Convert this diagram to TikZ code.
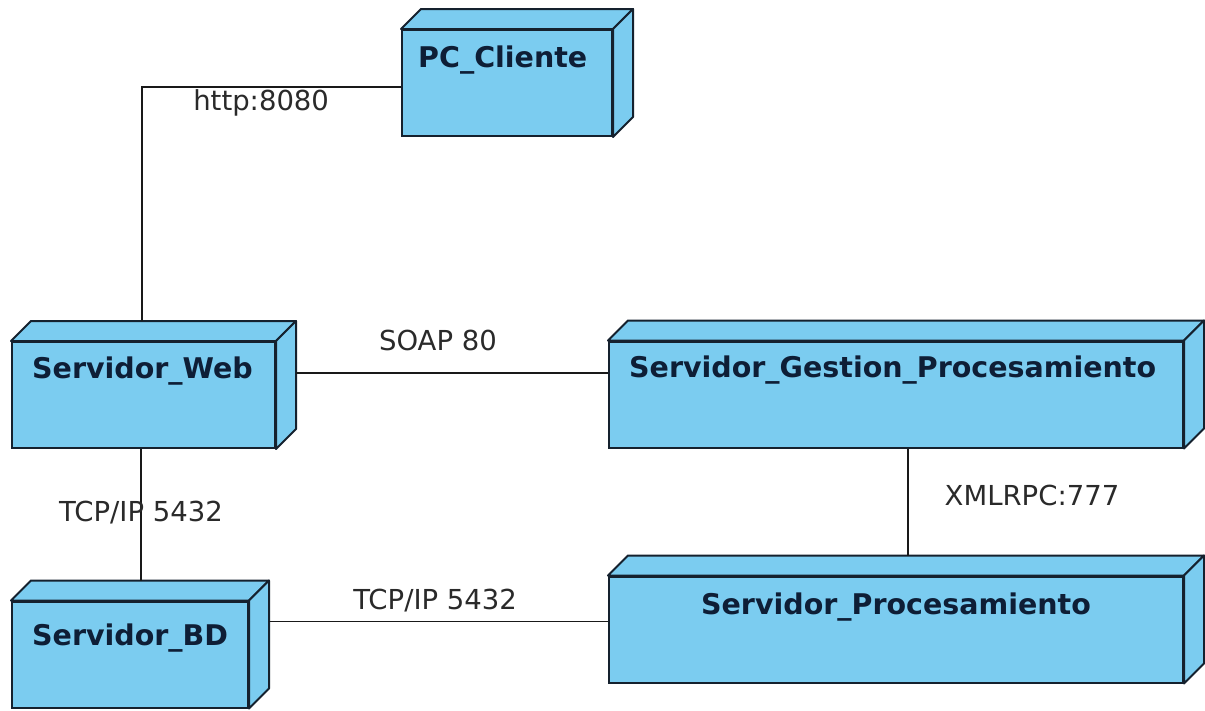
\documentclass[tikz,border=0pt]{standalone}
\usepackage{fontspec}
\setmainfont{DejaVu Sans}
\definecolor{nodefill}{HTML}{7BCCF0}
\definecolor{nodeline}{HTML}{15212E}
\definecolor{titlecol}{HTML}{0E1E36}
\definecolor{lblcol}{HTML}{2A2A2A}
\tikzset{
  dnode/.style={draw=nodeline, fill=nodefill, line width=2pt, rectangle, inner sep=0pt, minimum height=106pt},
  face/.style={draw=nodeline, fill=nodefill, line width=2pt, line join=round},
  title/.style={font=\fontsize{28.5}{32}\selectfont\bfseries, text=titlecol, inner sep=0pt},
  conn/.style={draw=black!90, line width=1.8pt},
  lbl/.style={font=\fontsize{27.5}{32}\selectfont, text=lblcol, inner sep=0pt}
}
\begin{document}
\begin{tikzpicture}[x=1pt,y=-1pt]
\useasboundingbox[fill=white] (0,0) rectangle (1205,710);
% nodes (front faces)
\node[dnode, minimum width=210pt] (pc)   at (507,83) {};
\node[dnode, minimum width=263pt] (web)  at (143.5,395) {};
\node[dnode, minimum width=574pt] (gest) at (896,394.5) {};
\node[dnode, minimum width=236pt] (bd)   at (130,654.5) {};
\node[dnode, minimum width=574pt] (proc) at (896,629.5) {};
% 3D faces
\foreach \n in {pc,web,gest,bd,proc}{
  \draw[face] (\n.north west) -- ([shift={(20,-20)}]\n.north west) -- ([shift={(20,-20)}]\n.north east) -- (\n.north east) -- cycle;
  \draw[face] (\n.north east) -- ([shift={(20,-20)}]\n.north east) -- ([shift={(20,-20)}]\n.south east) -- (\n.south east) -- cycle;
}
% titles
\node[title, anchor=west] (pct)   at ([shift={(17,31)}]pc.north west) {PC\_Cliente};
\node[title, anchor=west] (webt)  at ([shift={(21,30)}]web.north west) {Servidor\_Web};
\node[title, anchor=west] (gestt) at ([shift={(21,30)}]gest.north west) {Servidor\_Gestion\_Procesamiento};
\node[title, anchor=west] (bdt)   at ([shift={(21,38)}]bd.north west) {Servidor\_BD};
\node[title] (proct) at ([shift={(0,32)}]proc.north) {Servidor\_Procesamiento};
% connectors
\draw[conn] ([yshift=-4pt]pc.west) -| ([xshift=-1.5pt,yshift=20pt]web.north)
  node[lbl, pos=0.27, yshift=-16pt] (l1) {http:8080};
\draw[conn] ([xshift=20pt,yshift=22pt]web.east) -- ([yshift=22pt]web.east -| gest.west)
  node[lbl, pos=0.455, yshift=33pt] (l2) {SOAP 80};
\draw[conn] ([xshift=-2.5pt]web.south) -- ([xshift=-2.5pt,yshift=20pt]web.south |- bd.north)
  node[lbl, pos=0.485] (l3) {TCP/IP 5432};
\draw[conn] ([xshift=20pt,yshift=33pt]bd.east) -- ([yshift=33pt]bd.east -| proc.west)
  node[lbl, pos=0.49, yshift=21pt] (l4) {TCP/IP 5432};
\draw[conn] ([xshift=12pt]gest.south) -- ([xshift=12pt,yshift=20pt]proc.north)
  node[lbl, pos=0.44, xshift=124pt] (l5) {XMLRPC:777};
\end{tikzpicture}
\end{document}
